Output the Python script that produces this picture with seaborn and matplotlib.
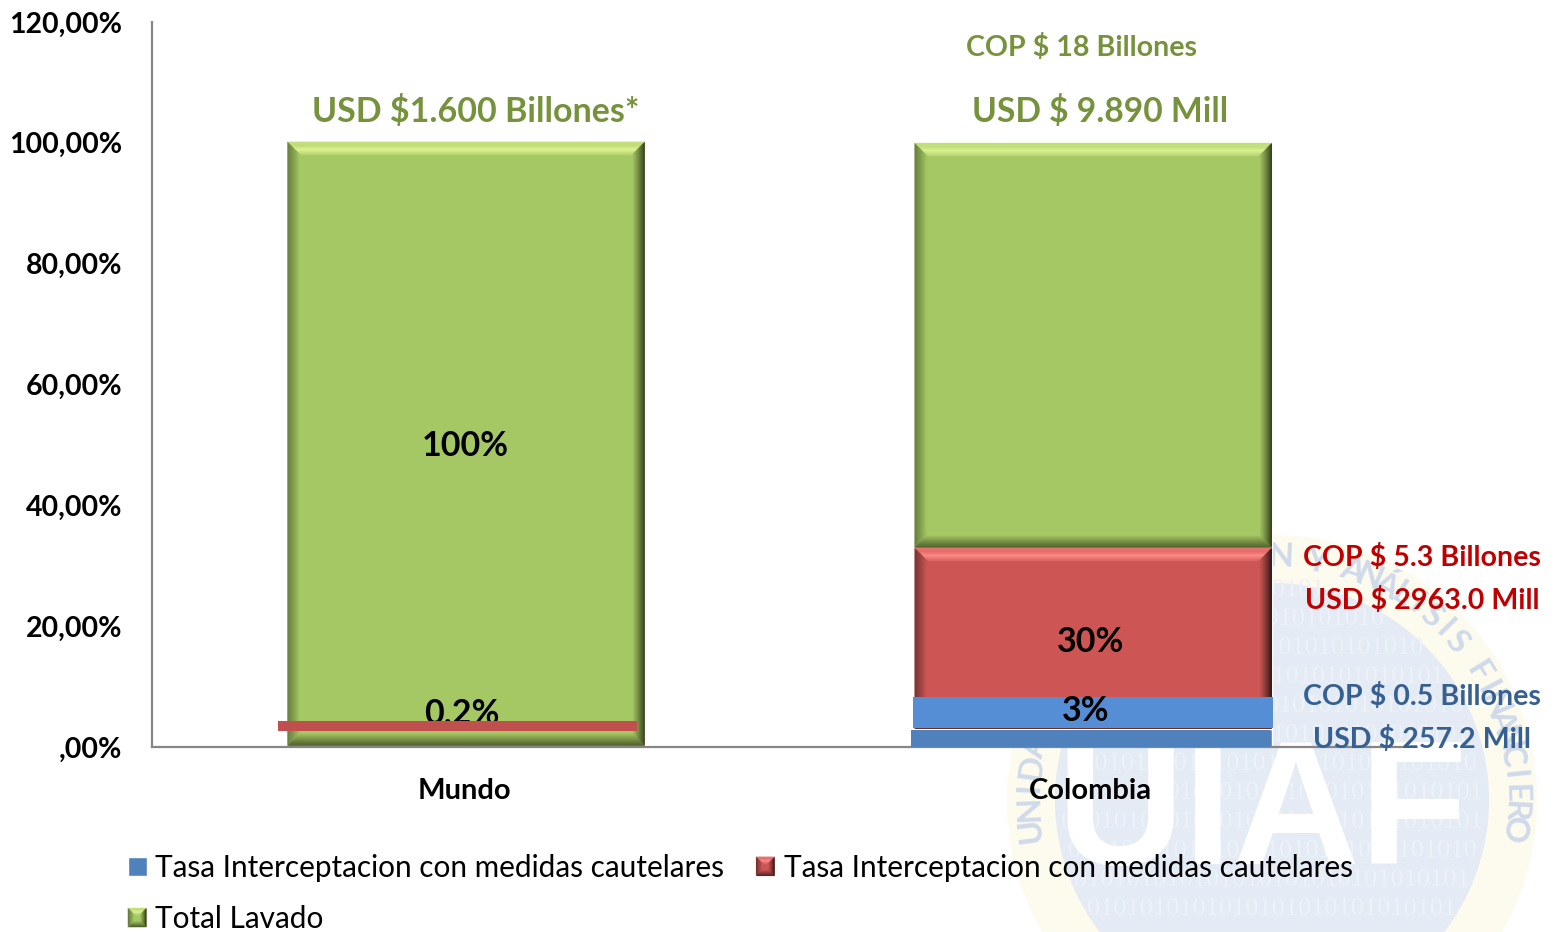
import numpy as np
import matplotlib
matplotlib.use('Agg')
import matplotlib.pyplot as plt
import seaborn as sns
from matplotlib.patches import Circle, Polygon, Rectangle

categories = ['Mundo', 'Colombia']
blue_values = [0.0, 3.0]
red_values = [0.2, 30.0]
green_values = [100.0, 67.0]
y_ticks = [0, 20, 40, 60, 80, 100, 120]
y_labels = [',00%', '20,00%', '40,00%', '60,00%', '80,00%', '100,00%', '120,00%']
legend_labels = ['Tasa Interceptacion con medidas cautelares',
                 'Tasa Interceptacion con medidas cautelares',
                 'Total Lavado']

W, H = 1565, 932
FONT = 'Lato'
GREEN, RED, BLUE = '#A6C864', '#CD5654', '#4F81BD'

sns.set_theme(style='white')
plt.rcParams['font.family'] = [FONT, 'DejaVu Sans']

fig = plt.figure(figsize=(W / 100, H / 100), dpi=100, facecolor='white')

# pixel layers, y pointing down like the reference
back = fig.add_axes([0, 0, 1, 1], zorder=0)
front = fig.add_axes([0, 0, 1, 1], zorder=5)
for a in (back, front):
    a.set_xlim(0, W)
    a.set_ylim(H, 0)
    a.axis('off')
    a.patch.set_alpha(0)

ax = fig.add_axes([152 / W, 1 - 747 / H, (1403 - 152) / W, (747 - 22) / H], zorder=2)
ax.patch.set_alpha(0)

# watermark behind the chart
cx, cy = 1272, 800
back.add_patch(Circle((cx, cy), 265, fc='#FDFAEE', ec='none'))
back.add_patch(Circle((cx, cy), 217, fc='#E4EBF5', ec='none'))
# agg ignores clip paths on text, so each row is cut to the width of the disc
for row_y in np.arange(590, 932, 29):
    chord = 2 * np.sqrt(max(217 ** 2 - (row_y - cy) ** 2, 0))
    back.text(cx, row_y, ('01' * 20)[:int(chord / 13.4)], family='Liberation Serif',
              fontsize=19, color='#EDF1F8', ha='center', va='center')
ring = 'UNIDAD DE INFORMACION Y ANÁLISIS FINANCIERO'
for i, ch in enumerate(ring):
    ang = np.radians(np.interp(i, [0, 20, len(ring) - 1], [187, 88, -7]))
    back.text(cx + 243 * np.cos(ang), cy - 243 * np.sin(ang), ch, fontsize=24, weight='bold',
              color='#CFDAEA', ha='center', va='center',
              rotation=np.degrees(ang) - 90, rotation_mode='anchor')
back.text(cx - 10, 818, 'UIAF', family='Liberation Sans', weight='bold', fontsize=127,
          color='white', ha='center', va='center')

# stacked bars
bottom_red = np.array(blue_values)
bottom_green = bottom_red + np.array(red_values)
sns.barplot(x=categories, y=blue_values, color=BLUE, saturation=1, width=0.57, ax=ax)
sns.barplot(x=categories, y=red_values, bottom=bottom_red, color=RED, saturation=1, width=0.57, ax=ax)
sns.barplot(x=categories, y=green_values, bottom=bottom_green, color=GREEN, saturation=1, width=0.57, ax=ax)

ax.set_ylim(0, 120)
ax.set_xlim(-0.5008, 1.494)
ax.set_xticks([-0.002, 0.995], categories)
ax.set_yticks(y_ticks)
ax.set_yticklabels(y_labels, fontsize=20.5, weight='bold', color='black')
ax.tick_params(axis='x', labelsize=21, length=0, pad=22.5, labelcolor='black')
ax.tick_params(axis='y', length=0, pad=21.5)
for lab in ax.get_xticklabels():
    lab.set_weight('bold')
for side in ('top', 'right'):
    ax.spines[side].set_visible(False)
for side in ('left', 'bottom'):
    ax.spines[side].set_color('#868686')
    ax.spines[side].set_linewidth(1.6)


def mix(c1, c2, t):
    a, b = np.array(matplotlib.colors.to_rgb(c1)), np.array(matplotlib.colors.to_rgb(c2))
    return tuple(a + (b - a) * t)


def bevel(target, x0, y0, x1, y1, base, light, dark, w=13, z=3, steps=14):
    # rings of trapezoids from the outer edge inwards
    w = min(w, (x1 - x0) / 2, (y1 - y0) / 2)
    for i in range(steps):
        d0, d1 = w * i / steps, w * (i + 1) / steps + 0.5
        t = i / (steps - 1)
        top = mix(light, base, abs(t - 0.6) / 0.6) if t > 0.25 else mix(base, light, 0.5)
        right = mix(dark, base, t ** 0.8)
        left = mix(mix(dark, base, 0.45), base, t)
        low = mix(mix(dark, base, 0.25), base, t)
        ring = [
            ([(x0 + d0, y0 + d0), (x1 - d0, y0 + d0), (x1 - d1, y0 + d1), (x0 + d1, y0 + d1)], top),
            ([(x1 - d0, y0 + d0), (x1 - d0, y1 - d0), (x1 - d1, y1 - d1), (x1 - d1, y0 + d1)], right),
            ([(x0 + d0, y1 - d0), (x1 - d0, y1 - d0), (x1 - d1, y1 - d1), (x0 + d1, y1 - d1)], low),
            ([(x0 + d0, y0 + d0), (x0 + d0, y1 - d0), (x0 + d1, y1 - d1), (x0 + d1, y0 + d1)], left),
        ]
        for pts, col in ring:
            target.add_patch(Polygon(pts, closed=True, fc=col, ec='none', zorder=z))


styles = {RED: ('#FF8A86', '#2E1413'), GREEN: ('#DDF592', '#2F3A18')}
groups = list(zip(ax.containers[1], [RED] * 2)) + list(zip(ax.containers[2], [GREEN] * 2))
for bar, col in groups:
    (px0, py0), (px1, py1) = ax.transData.transform(
        [(bar.get_x(), bar.get_y() + bar.get_height()), (bar.get_x() + bar.get_width(), bar.get_y())])
    if abs(py1 - py0) < 3:
        continue
    bevel(front, px0, H - py0, px1, H - py1, col, *styles[col])

# pasted shapes over the bars
front.text(462, 714, '0.2%', fontsize=24.5, weight='bold', color='black', ha='center', va='center', zorder=4)
front.add_patch(Rectangle((278, 721), 359, 10, fc='#C0504D', ec='none', zorder=5))
front.add_patch(Rectangle((911, 730), 359, 17, fc=BLUE, ec='none', zorder=5))
front.add_patch(Rectangle((913, 697), 360, 31, fc='#558ED5', ec='none', zorder=5))

# value labels
for x, y, s in [(465, 446, '100%'), (1091, 642, '30%'), (1086, 711, '3%')]:
    front.text(x, y, s, fontsize=24.5, weight='bold', color='black', ha='center', va='center', zorder=6)
for x, y, s, col, fs in [
    (476, 111.5, 'USD $1.600 Billones*', '#76923C', 24.5),
    (1082, 47.5, 'COP $ 18 Billones', '#76923C', 20.6),
    (1100, 111.5, 'USD $ 9.890 Mill', '#76923C', 24.2),
    (1422, 557.6, 'COP $ 5.3 Billones', '#C00000', 20.6),
    (1422, 600, 'USD $ 2963.0 Mill', '#C00000', 20.6),
    (1422, 696, 'COP $ 0.5 Billones', '#376092', 20.6),
    (1422, 739.6, 'USD $ 257.2 Mill', '#376092', 20.6),
]:
    front.text(x, y, s, fontsize=fs, weight='bold', color=col, ha='center', va='center', zorder=6)

# legend: columns fill first, so green goes second
handles = [ax.containers[0][0], ax.containers[2][0], ax.containers[1][0]]
leg = ax.legend(handles, [legend_labels[0], legend_labels[2], legend_labels[1]], ncol=2,
                loc='upper left', bbox_to_anchor=(104 / W, 1 - 830 / H), bbox_transform=fig.transFigure,
                frameon=False, fontsize=21.4, handlelength=0.63, handleheight=0.63, handletextpad=0.3,
                labelspacing=0.78, columnspacing=1.06, borderpad=0.3, labelcolor='black')
leg.set_zorder(6)
fig.canvas.draw()
for patch, col in zip(leg.get_patches(), [BLUE, GREEN, RED]):
    if col == BLUE:
        continue
    bb = patch.get_window_extent()
    bevel(front, bb.x0, H - bb.y1, bb.x1, H - bb.y0, col, *styles[col], w=7, z=7, steps=7)

fig.savefig('out.png', dpi=100)
